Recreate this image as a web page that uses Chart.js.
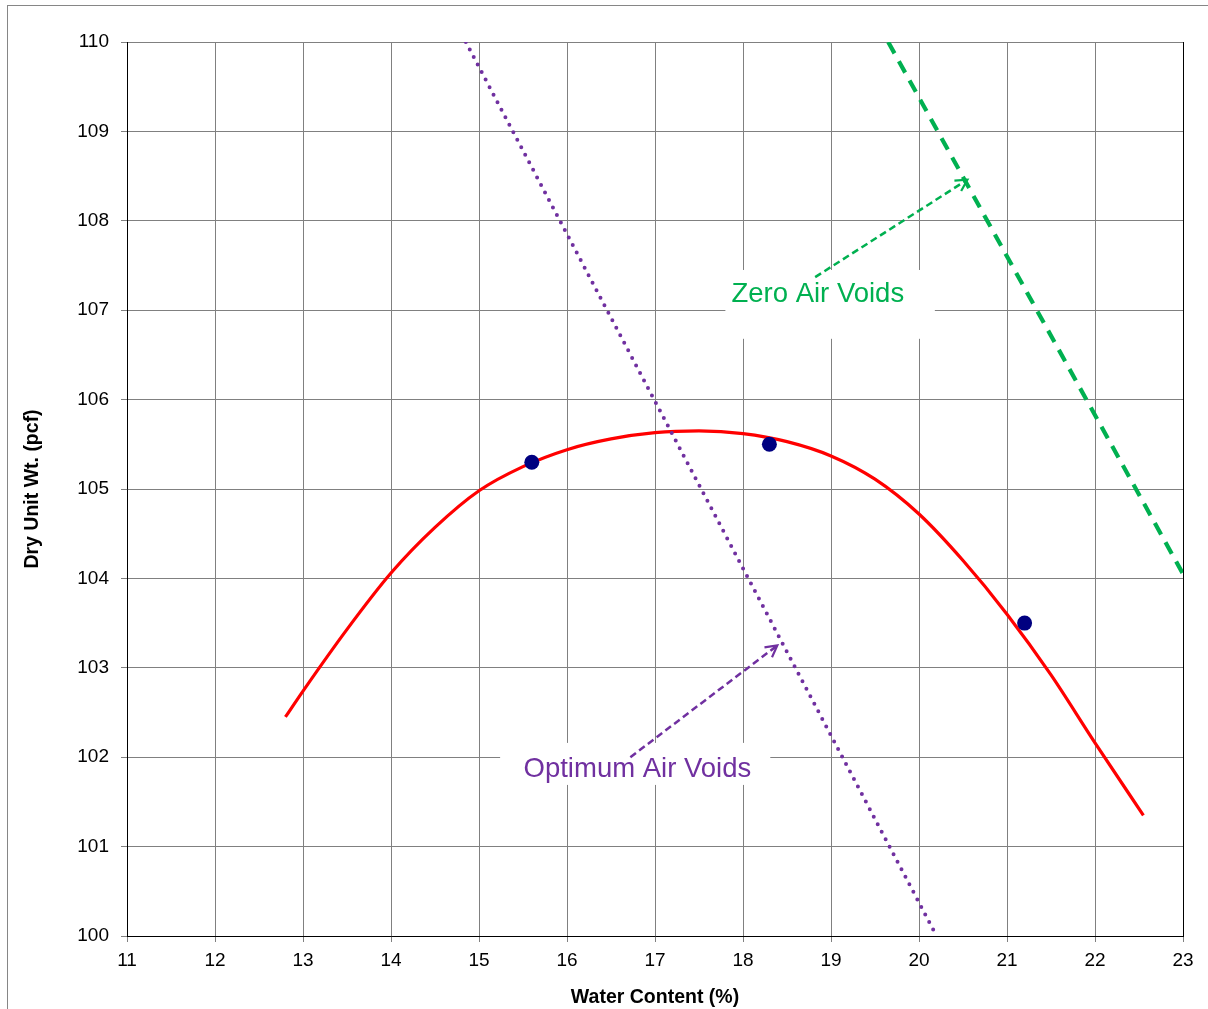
<!DOCTYPE html>
<html>
<head>
<meta charset="utf-8">
<title>Compaction curve</title>
<script src="https://cdn.jsdelivr.net/npm/chart.js@4/dist/chart.umd.min.js"></script>
<style>
  html, body { margin: 0; padding: 0; background: #fff; }
</style>
</head>
<body>
<canvas id="compaction" width="1208" height="1009"></canvas>
<script>
// данные испытания (точки)
const testWater = [15.6, 18.3, 21.2];
const testDry = [105.3, 105.5, 103.5];

// кривая уплотнения
const curveWater = [12.8, 13, 13.5, 14, 14.5, 15, 15.5, 16, 16.5, 17, 17.5, 18, 18.5, 19, 19.5, 20, 20.5, 21, 21.5, 22, 22.55];
const curveDry = [102.45, 102.74, 103.43, 104.06, 104.57, 104.98, 105.25, 105.44, 105.56, 105.63, 105.65, 105.62, 105.53, 105.37, 105.11, 104.72, 104.2, 103.6, 102.92, 102.16, 101.35];

// линия оптимальной пористости
const optimumWater = [14.85, 20.2];
const optimumDry = [110, 100];

// линия нулевой пористости
const zeroWater = [19.65, 23];
const zeroDry = [110, 104.05];

// оси
const xRange = [11, 23];
const yRange = [100, 110];

const FONT = "'Liberation Sans', Arial, Helvetica, sans-serif";

const toPoints = (xs, ys) => xs.map((v, i) => ({ x: v, y: ys[i] }));

// подписи со стрелками (в единицах осей)
const callouts = [
  {
    text: "Zero Air Voids",
    color: "#00B050",
    box: [17.8, 20.18, 107.45, 106.68],
    textAt: [18.85, 107.09],
    arrowFrom: [18.82, 107.37],
    arrowTo: [20.55, 108.46],
  },
  {
    text: "Optimum Air Voids",
    color: "#7030A0",
    box: [15.24, 18.31, 102.16, 101.69],
    textAt: [16.8, 101.78],
    arrowFrom: [16.72, 102.0],
    arrowTo: [18.39, 103.25],
  },
];

const alignPx = (p) => Math.round(p - 0.5) + 0.5;

const sketchPlugin = {
  id: "sketch",
  beforeDraw(chart) {
    const ctx = chart.ctx;
    ctx.save();
    ctx.fillStyle = "#fff";
    ctx.fillRect(0, 0, chart.width, chart.height);
    ctx.strokeStyle = "#868686";
    ctx.lineWidth = 1;
    ctx.strokeRect(7.5, 5.5, chart.width + 10, chart.height + 10);
    ctx.restore();
  },
  beforeDatasetsDraw(chart) {
    const { ctx, scales: { x, y }, chartArea } = chart;
    ctx.save();
    // правая граница области построения
    const r = alignPx(chartArea.right);
    ctx.strokeStyle = "#000";
    ctx.lineWidth = 1;
    ctx.beginPath();
    ctx.moveTo(r, chartArea.top);
    ctx.lineTo(r, chartArea.bottom);
    ctx.stroke();
    // белые подложки под подписи
    ctx.fillStyle = "#fff";
    callouts.forEach((c) => {
      const x1 = x.getPixelForValue(c.box[0]);
      const x2 = x.getPixelForValue(c.box[1]);
      const y1 = y.getPixelForValue(c.box[2]);
      const y2 = y.getPixelForValue(c.box[3]);
      ctx.fillRect(x1, y1, x2 - x1, y2 - y1);
    });
    ctx.restore();
  },
  afterDatasetsDraw(chart) {
    const { ctx, scales: { x, y } } = chart;
    ctx.save();
    callouts.forEach((c) => {
      const fx = x.getPixelForValue(c.arrowFrom[0]);
      const fy = y.getPixelForValue(c.arrowFrom[1]);
      const tx = x.getPixelForValue(c.arrowTo[0]);
      const ty = y.getPixelForValue(c.arrowTo[1]);
      ctx.strokeStyle = c.color;
      ctx.lineWidth = 2.5;
      ctx.setLineDash([7, 4]);
      ctx.beginPath();
      ctx.moveTo(fx, fy);
      ctx.lineTo(tx, ty);
      ctx.stroke();
      // наконечник
      const a = Math.atan2(ty - fy, tx - fx);
      const len = 13;
      ctx.setLineDash([]);
      ctx.lineWidth = 2.2;
      ctx.beginPath();
      ctx.moveTo(tx - len * Math.cos(a - 0.5), ty - len * Math.sin(a - 0.5));
      ctx.lineTo(tx, ty);
      ctx.lineTo(tx - len * Math.cos(a + 0.5), ty - len * Math.sin(a + 0.5));
      ctx.stroke();
      // текст
      ctx.fillStyle = c.color;
      ctx.font = `27.5px ${FONT}`;
      ctx.textAlign = "center";
      ctx.textBaseline = "alphabetic";
      ctx.fillText(c.text, x.getPixelForValue(c.textAt[0]), y.getPixelForValue(c.textAt[1]));
    });
    ctx.restore();
  },
};

new Chart(document.getElementById("compaction").getContext("2d"), {
  type: "scatter",
  data: {
    datasets: [
      {
        label: "Test points",
        data: toPoints(testWater, testDry),
        backgroundColor: "#000080",
        borderWidth: 0,
        pointRadius: 7.5,
        showLine: false,
      },
      {
        label: "Optimum Air Voids",
        data: toPoints(optimumWater, optimumDry),
        showLine: true,
        borderColor: "#7030A0",
        borderWidth: 4,
        borderDash: [0, 8.5],
        borderCapStyle: "round",
        pointRadius: 0,
      },
      {
        label: "Zero Air Voids",
        data: toPoints(zeroWater, zeroDry),
        showLine: true,
        borderColor: "#00B050",
        borderWidth: 4.2,
        borderDash: [13, 9],
        pointRadius: 0,
      },
      {
        label: "Compaction curve",
        data: toPoints(curveWater, curveDry),
        showLine: true,
        borderColor: "#FF0000",
        borderWidth: 3.2,
        cubicInterpolationMode: "monotone",
        pointRadius: 0,
      },
    ],
  },
  options: {
    responsive: false,
    animation: false,
    layout: { padding: { left: 0, top: 42, right: 25, bottom: 0 } },
    plugins: {
      legend: { display: false },
      tooltip: { enabled: false },
    },
    scales: {
      x: {
        type: "linear",
        min: xRange[0],
        max: xRange[1],
        ticks: {
          stepSize: 1,
          color: "#000",
          padding: 7,
          font: { family: FONT, size: 19 },
        },
        grid: { color: "#808080", tickColor: "#808080", tickLength: 6 },
        border: { color: "#000", width: 1 },
        title: {
          display: true,
          text: "Water Content (%)",
          color: "#000",
          font: { family: FONT, size: 19.5, weight: "bold" },
          padding: { top: 0, bottom: 0 },
        },
        afterFit: (scale) => { scale.height = 73; },
      },
      y: {
        type: "linear",
        min: yRange[0],
        max: yRange[1],
        ticks: {
          stepSize: 1,
          color: "#000",
          padding: 12,
          font: { family: FONT, size: 19 },
        },
        grid: { color: "#808080", tickColor: "#808080", tickLength: 6 },
        border: { color: "#000", width: 1 },
        title: {
          display: true,
          text: "Dry Unit Wt. (pcf)",
          color: "#000",
          font: { family: FONT, size: 19.5, weight: "bold" },
          padding: { top: 21, bottom: 0 },
        },
        afterFit: (scale) => { scale.width = 127; },
      },
    },
  },
  plugins: [sketchPlugin],
});
</script>
</body>
</html>
